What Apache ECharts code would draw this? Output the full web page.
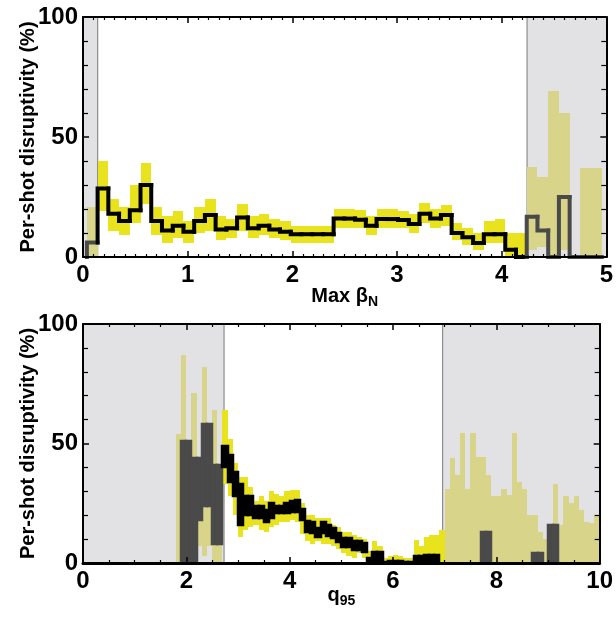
<!DOCTYPE html>
<html>
<head>
<meta charset="utf-8">
<script src="https://cdn.jsdelivr.net/npm/echarts@6/dist/echarts.min.js"></script>
<style>html,body{margin:0;padding:0;background:#fff}#c{width:616px;height:619px}</style>
</head>
<body>
<div id="c"></div>
<script>
// ---------- TOP PANEL: Max beta_N ----------
const topBinStart = 0.037;
const topBinWidth = 0.1025;
const topValue = [6,28.5,18,15,19.5,30,15,11,13,10.5,15,17.5,11.5,12,16.5,12,13,11.5,10.5,9.5,9.5,9.5,9.5,16,16,15.5,13,15.8,15.8,15.4,13.8,18,16,17.5,10,8.2,5.8,9.5,9.5,3,0,16.8,11,0,25,0,0,0];
const topLow   = [0,19,11,9,14,22,9,6,8,6,10,11,7,8,11,8,9,8,7,6,6,6,6,12,12,12,9,12,12,12,10,14,12,13,7,5,3,6,6,0,0,3,4,0,3,0,0,0];
const topHigh  = [21,40,24,21,30,39,21,17,19,15,21,24,17,16,22,17,18,16,15,13,13,13,13,20,20,19.5,17,20,20,19,18,22.5,20,21.5,14,12,10,15,16,10,10,37.5,33.5,69,60,0,37,37];
const topShaded = [[0,0.14],[4.2425,5]];
const topXTicks = [0,1,2,3,4,5];

// ---------- BOTTOM PANEL: q95 ----------
const botBinStart = 0;
const botBinWidth = 0.1;
const botDarkLow  = [0,0,0,0,0,0,0,0,0,0, 0,0,0,0,0,0,0,0,0,0, 0,0,18,24,24,8,8,40,34,28, 16,20,20,19,19,17,19,21,21,21, 21.5,21.5,18,13,12.5,11,12.4,11.5,10.3,8.9, 6.5,6.5,5.5,5.5,4.5,0,0,0,0,0, 0,0,0,0,0,0,0,0,0,0, 0,0,0,0,0,0,0,0,0,0, 0,0,0,0,0,0,0,0,0,0, 0,0,0,0,0,0,0,0,0,0];
const botDarkHigh = [0,0,0,0,0,0,0,0,0,0, 0,0,0,0,0,0,0,0,0,51, 51,44,44,58,58,41,41,49,45,38, 33,28,28,24,24,22,25,24,24,25, 26,26.4,22.5,17.5,17.3,14.5,17.3,16,14.5,12.4, 10.5,10.5,9,9,8.5,2,4.5,4.5,0.5,1, 1,1,0.5,0.5,3,3,3.5,3.5,3.5,0, 0,0,0,0,0,0,0,13,13,0, 0,0,0,0,0,0,0,4,4,0, 16,16,0,0,0,0,0,0,0,0];
const botYelLow   = [0,0,0,0,0,0,0,0,0,0, 0,0,0,0,0,0,0,0,0,0, 0,0,7,3,7,0,0,33,28,20, 11,14,15,16,14,13,15,16,17,17, 18,17,12,9,8,9,8,8,7,6, 4,3,2,4,2,0,0,0,0,0, 0,0,0,0,0,0,0,0,0,0, 0,0,0,0,0,0,0,0,0,0, 0,0,0,0,0,0,0,0,0,0, 0,0,0,0,0,0,0,0,0,0];
const botYelHigh  = [0,0,0,0,0,0,0,0,0,0, 0,0,0,0,0,0,0,0,54,87, 51,71,44,82,58,64,41,64,52,42, 36,36,32,26,28,26,30,29,28,30, 30.6,30.5,25,20,20,19,19,18.7,16,15, 13,13,11.6,11,10,5,9,7,2,3, 3.2,3,2,2,9.8,7,11,11.6,11.6,13.7, 31,44,37,54.5,31,54.5,44.5,44.5,37,28, 28,31,28.6,54.5,34,31,20,20,13,10, 12.5,33,16,28,25,28,22,17,16.6,20];
const botShaded = [[0,2.73],[6.96,10]];
const botXTicks = [0,2,4,6,8,10];

const yTicks = [0,50,100];

// ---------- styling ----------
const C_GRAYBG = '#e2e2e4';
const C_GRAYEDGE = '#8c8c8c';
const C_YEL = '#e8e31c';
const C_YEL_PALE = '#d8d48a';
const C_DARK = '#4a4a4a';
const C_BLACK = '#000000';
const FONT_TICK = "'Liberation Sans Narrow','Liberation Sans','Arial Narrow',sans-serif";
const FONT_NAME = "'Liberation Sans','Arial',sans-serif";

function inShade(shades, x) {
  return shades.some(s => x >= s[0] && x <= s[1]);
}

function bandData(start, w, lo, hi, shades) {
  return lo.map((l, i) => {
    const x0 = start + i * w, x1 = x0 + w;
    return [x0, x1, l, hi[i], inShade(shades, (x0 + x1) / 2) ? 1 : 0];
  });
}
function stepData(start, w, vals, shades) {
  return vals.map((v, i) => {
    const x0 = start + i * w, x1 = x0 + w;
    const prev = i === 0 ? 0 : vals[i - 1];
    return [x0, x1, prev, v, inShade(shades, (x0 + x1) / 2) ? 1 : 0];
  });
}

function clipTo(params, r) {
  const cs = params.coordSys;
  return echarts.graphic.clipRectByRect(r, {x: cs.x, y: cs.y, width: cs.width, height: cs.height});
}

function bandRender(colorShaded, colorPlain, strokeW) {
  return function (params, api) {
    const x0 = api.value(0), x1 = api.value(1), lo = api.value(2), hi = api.value(3), f = api.value(4);
    if (hi <= 0 || hi <= lo) return null;
    const a = api.coord([x0, hi]);
    const b = api.coord([x1, lo]);
    const ax = Math.round(a[0]), bx = Math.round(b[0]);
    const ay = Math.round(a[1]), by = Math.round(b[1]);
    const shape = clipTo(params, {x: ax, y: ay, width: bx - ax, height: by - ay});
    if (!shape) return null;
    const col = f ? colorShaded : colorPlain;
    return {type: 'rect', shape: shape, style: {fill: col, stroke: strokeW ? col : null, lineWidth: strokeW || 0}};
  };
}

function stepRender(params, api) {
  const x0 = api.value(0), x1 = api.value(1), prev = api.value(2), v = api.value(3), f = api.value(4);
  const p1 = api.coord([x0, prev]), p2 = api.coord([x0, v]), p3 = api.coord([x1, v]);
  return {
    type: 'polyline',
    shape: {points: [p1, p2, p3]},
    style: {stroke: f ? C_DARK : C_BLACK, lineWidth: 4, fill: null, lineJoin: 'miter', lineCap: 'square'}
  };
}

function shadeRender(params, api) {
  const x0 = api.value(0), x1 = api.value(1);
  const cs = params.coordSys;
  const a = api.coord([x0, 100]), b = api.coord([x1, 0]);
  const shape = clipTo(params, {x: a[0], y: cs.y, width: b[0] - a[0], height: cs.height});
  if (!shape) return null;
  const edgeX = x0 <= 0.0001 ? b[0] : a[0];
  return {
    type: 'group',
    children: [
      {type: 'rect', shape: shape, style: {fill: C_GRAYBG}},
      {type: 'line', shape: {x1: edgeX, y1: cs.y, x2: edgeX, y2: cs.y + cs.height}, style: {stroke: C_GRAYEDGE, lineWidth: 1.2}}
    ]
  };
}

function xAxisBase(grid, max, interval, minorSplit, pos, showLabel, lineW) {
  return {
    type: 'value', gridIndex: grid, min: 0, max: max, interval: interval, position: pos, z: 10,
    axisLine: {show: true, onZero: false, lineStyle: {color: '#000', width: lineW}},
    axisTick: {show: true, inside: true, length: 6, lineStyle: {color: '#000', width: 1.5}},
    minorTick: {show: true, splitNumber: minorSplit, length: 3, lineStyle: {color: '#000', width: 1.2}},
    splitLine: {show: false}, minorSplitLine: {show: false},
    axisLabel: {show: showLabel, margin: 6, color: '#000', fontSize: 24, fontWeight: 'bold', fontFamily: FONT_TICK,
      formatter: v => String(v)}
  };
}
function yAxisBase(grid, pos, showLabel) {
  return {
    type: 'value', gridIndex: grid, min: 0, max: 100, interval: 50, position: pos, z: 10,
    axisLine: {show: true, onZero: false, lineStyle: {color: '#000', width: 2}},
    axisTick: {show: true, inside: true, length: 6, lineStyle: {color: '#000', width: 1.5}},
    minorTick: {show: true, splitNumber: 5, length: 5, lineStyle: {color: '#000', width: 1.2}},
    splitLine: {show: false}, minorSplitLine: {show: false},
    axisLabel: {show: showLabel, margin: 5, color: '#000', fontSize: 24, fontWeight: 'bold', fontFamily: FONT_TICK,
      formatter: v => yTicks.includes(v) ? String(v) : ''}
  };
}

const yName = {
  name: 'Per-shot disruptivity (%)', nameLocation: 'middle', nameRotate: 90, nameGap: 45, nameMoveOverlap: false,
  nameTextStyle: {color: '#000', fontSize: 20, fontWeight: 'bold', fontFamily: FONT_NAME}
};

const subRich = {
  t: {fontSize: 20, fontWeight: 'bold', fontFamily: FONT_NAME, color: '#000', verticalAlign: 'top', lineHeight: 26},
  s: {fontSize: 14, fontWeight: 'bold', fontFamily: FONT_NAME, color: '#000', verticalAlign: 'top', lineHeight: 26, padding: [9, 0, 0, 0]}
};

const chart = echarts.init(document.getElementById('c'), null, {renderer: 'canvas'});
const option = {
  animation: false,
  backgroundColor: '#fff',
  grid: [
    {left: 83, right: 9, top: 17, height: 240},
    {left: 83, right: 9, top: 324, height: 239}
  ],
  xAxis: [
    Object.assign(xAxisBase(0, 5, 1, 10, 'bottom', true, 2), {
      name: '{t|Max β}{s|N}', nameLocation: 'middle', nameGap: 29, nameMoveOverlap: false, nameTextStyle: {rich: subRich}
    }),
    xAxisBase(0, 5, 1, 10, 'top', false, 2),
    Object.assign(xAxisBase(1, 10, 2, 4, 'bottom', true, 3), {
      name: '{t|q}{s|95}', nameLocation: 'middle', nameGap: 22, nameMoveOverlap: false, nameTextStyle: {rich: subRich}
    }),
    xAxisBase(1, 10, 2, 4, 'top', false, 2)
  ],
  yAxis: [
    Object.assign(yAxisBase(0, 'left', true), yName),
    yAxisBase(0, 'right', false),
    Object.assign(yAxisBase(1, 'left', true), yName),
    yAxisBase(1, 'right', false)
  ],
  series: [
    {type: 'custom', xAxisIndex: 0, yAxisIndex: 0, z: 1, renderItem: shadeRender, data: topShaded, silent: true},
    {type: 'custom', xAxisIndex: 0, yAxisIndex: 0, z: 2, renderItem: bandRender(C_YEL_PALE, C_YEL, 0),
      data: bandData(topBinStart, topBinWidth, topLow, topHigh, topShaded), silent: true},
    {type: 'custom', xAxisIndex: 0, yAxisIndex: 0, z: 3, renderItem: stepRender,
      data: stepData(topBinStart, topBinWidth, topValue, topShaded), silent: true},
    {type: 'custom', xAxisIndex: 2, yAxisIndex: 2, z: 1, renderItem: shadeRender, data: botShaded, silent: true},
    {type: 'custom', xAxisIndex: 2, yAxisIndex: 2, z: 2, renderItem: bandRender(C_YEL_PALE, C_YEL, 0),
      data: bandData(botBinStart, botBinWidth, botYelLow, botYelHigh, botShaded), silent: true},
    {type: 'custom', xAxisIndex: 2, yAxisIndex: 2, z: 3, renderItem: bandRender(C_DARK, C_BLACK, 2.5),
      data: bandData(botBinStart, botBinWidth, botDarkLow, botDarkHigh, botShaded), silent: true}
  ]
};
chart.setOption(option);
</script>
</body>
</html>
